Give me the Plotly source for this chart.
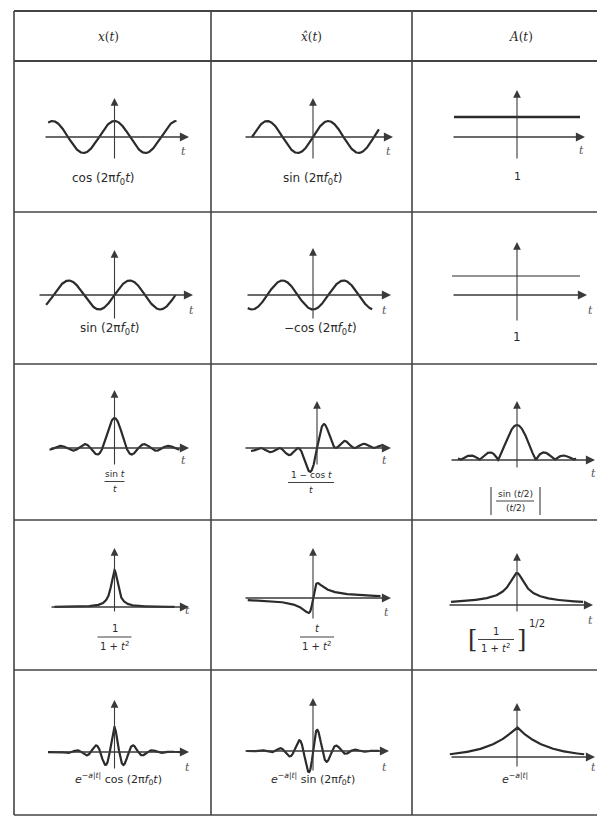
import numpy as np
import plotly.graph_objects as go

W, H = 597, 818

# ---- table layout (pixels) ----
col_edges = [14, 211, 412, 597]
row_edges = [11, 61, 212, 364, 520, 670, 815]
header_labels = ["<i>x</i>(<i>t</i>)", "<i>x\u0302</i>(<i>t</i>)", "<i>A</i>(<i>t</i>)"]
header_x = [108, 311, 521]

# ---- signal parameters ----
f0 = 1.0      # carrier frequency (cycles per unit t)
a = 1.35      # exponential decay rate

def sinc(t):
    return np.sinc(t / np.pi)

signals = {
    "cos":      lambda t: np.cos(2 * np.pi * f0 * t),
    "sin":      lambda t: np.sin(2 * np.pi * f0 * t),
    "neg_cos":  lambda t: -np.cos(2 * np.pi * f0 * t),
    "one":      lambda t: np.ones_like(t),
    "sinc":     lambda t: sinc(t),
    "one_minus_cos": lambda t: np.where(np.abs(t) < 1e-9, 0.0,
                                        (1 - np.cos(t)) / np.where(t == 0, 1, t)),
    "abs_sinc_half": lambda t: np.abs(sinc(t / 2)),
    "lorentz":  lambda t: 1 / (1 + t ** 2),
    "lorentz_odd": lambda t: t / (1 + t ** 2),
    "lorentz_sqrt": lambda t: 1 / np.sqrt(1 + t ** 2),
    "exp_cos":  lambda t: np.exp(-a * np.abs(t)) * np.cos(2 * np.pi * f0 * t),
    "exp_sin":  lambda t: np.exp(-a * np.abs(t)) * np.sin(2 * np.pi * f0 * t),
    "exp_env":  lambda t: np.exp(-np.abs(t)),
}

# per cell: row, col, signal, curve t-span, and drawing geometry
# geometry: origin (cx, base) px, scale (sx px per t, sy px per unit),
# horizontal axis ends px, vertical axis ends px, line width
cells = [
    (0, 0, "cos",  (-1.07, 1.0),  dict(cx=114.5, base=137, sx=62, sy=16, L=44, R=189, vt=98, vb=160, lw=2.2)),
    (0, 1, "sin",  (-1.0, 1.08),  dict(cx=313, base=137, sx=61, sy=16, L=244, R=393, vt=98, vb=160, lw=2.2)),
    (0, 2, "one",  (-1.26, 1.26), dict(cx=517, base=137, sx=50, sy=20, L=452, R=585, vt=90, vb=160, lw=2.4)),
    (1, 0, "sin",  (-1.12, 1.0),  dict(cx=114.5, base=295, sx=61, sy=14.5, L=38, R=193, vt=250, vb=320, lw=2.2)),
    (1, 1, "neg_cos", (-1.07, 0.97), dict(cx=313, base=295, sx=61, sy=14.5, L=246, R=391, vt=248, vb=320, lw=2.2)),
    (1, 2, "one",  (-1.3, 1.26),  dict(cx=517, base=295, sx=50, sy=19, L=452, R=587, vt=242, vb=322, lw=1.2)),
    (2, 0, "sinc", (-17, 17),     dict(cx=114.5, base=448, sx=3.82, sy=30, L=50, R=189, vt=390, vb=466, lw=2.2)),
    (2, 1, "one_minus_cos", (-22, 22), dict(cx=317, base=448, sx=3, sy=33, L=244, R=391, vt=401, vb=466, lw=2.2)),
    (2, 2, "abs_sinc_half", (-19.7, 19.7), dict(cx=517, base=460, sx=3, sy=35, L=450, R=595, vt=401, vb=469, lw=2.2)),
    (3, 0, "lorentz", (-15, 15),  dict(cx=114.5, base=607, sx=4, sy=37, L=50, R=189, vt=548, vb=613, lw=2.2)),
    (3, 1, "lorentz_odd", (-14.5, 15), dict(cx=313, base=598, sx=4.5, sy=30, L=244, R=391, vt=548, vb=620, lw=2.2)),
    (3, 2, "lorentz_sqrt", (-10, 10), dict(cx=517, base=605, sx=6.6, sy=32, L=448, R=593, vt=553, vb=613, lw=2.2)),
    (4, 0, "exp_cos", (-3.5, 3.5), dict(cx=114.5, base=752, sx=19, sy=25, L=50, R=189, vt=700, vb=770, lw=2.2)),
    (4, 1, "exp_sin", (-3.5, 3.5), dict(cx=313, base=751, sx=19, sy=29, L=244, R=389, vt=698, vb=772, lw=2.2)),
    (4, 2, "exp_env", (-2.4, 2.4), dict(cx=517, base=757, sx=28, sy=30, L=450, R=595, vt=703, vb=768, lw=2.2)),
]

# "t" axis-name positions (px)
t_label_pos = [(183, 151), (388, 151), (581, 150),
               (191, 310), (384, 310), (590, 310),
               (183, 461), (384, 461), (593, 474),
               (187, 610), (386, 612), (590, 620),
               (187, 767), (384, 767), (593, 767)]

INK = "#2b2b2b"
AXIS_INK = "#3a3a3a"
LABEL_FONT = "DejaVu Sans"
MATH_FONT = "DejaVu Serif"

def px(x):
    return x / W

def py(y):
    return 1 - y / H

fig = go.Figure()
annotations = []
shapes = []
layout_axes = {}

for n, (r, c, key, (t0, t1), g) in enumerate(cells, start=1):
    xa = "x" if n == 1 else f"x{n}"
    ya = "y" if n == 1 else f"y{n}"
    X0, X1 = col_edges[c], col_edges[c + 1]
    Y0, Y1 = row_edges[r + 1], row_edges[r + 2]
    xr = [(X0 - g["cx"]) / g["sx"], (X1 - g["cx"]) / g["sx"]]
    yr = [(g["base"] - Y1) / g["sy"], (g["base"] - Y0) / g["sy"]]
    layout_axes["xaxis" if n == 1 else f"xaxis{n}"] = dict(
        domain=[px(X0), px(X1)], range=xr, visible=False, fixedrange=True, anchor=ya)
    layout_axes["yaxis" if n == 1 else f"yaxis{n}"] = dict(
        domain=[py(Y1), py(Y0)], range=yr, visible=False, fixedrange=True, anchor=xa)

    t = np.linspace(t0, t1, 1200)
    fig.add_trace(go.Scatter(x=t, y=signals[key](t), mode="lines", xaxis=xa, yaxis=ya,
                             line=dict(color=INK, width=g["lw"]), hoverinfo="skip",
                             showlegend=False))

    # horizontal time axis with arrow
    tl = (g["L"] - g["cx"]) / g["sx"]
    tr = (g["R"] - g["cx"]) / g["sx"]
    annotations.append(dict(x=tr, y=0, ax=tl, ay=0, xref=xa, yref=ya, axref=xa, ayref=ya,
                            text="", showarrow=True, arrowhead=2, arrowsize=1.4,
                            arrowwidth=1.3, arrowcolor=AXIS_INK, standoff=0))
    # vertical axis with arrow
    vt = (g["base"] - g["vt"]) / g["sy"]
    vb = (g["base"] - g["vb"]) / g["sy"]
    annotations.append(dict(x=0, y=vt, ax=0, ay=vb, xref=xa, yref=ya, axref=xa, ayref=ya,
                            text="", showarrow=True, arrowhead=2, arrowsize=1.4,
                            arrowwidth=1.1, arrowcolor=AXIS_INK, standoff=0))

def text(x, y, s, size=12, font=LABEL_FONT, color=INK):
    annotations.append(dict(x=px(x), y=py(y), xref="paper", yref="paper", text=s,
                            showarrow=False, xanchor="center", yanchor="middle",
                            font=dict(family=font, size=size, color=color)))

def hline(x0, x1, y, w=1.0, color=INK):
    shapes.append(dict(type="line", xref="paper", yref="paper", x0=px(x0), x1=px(x1),
                       y0=py(y), y1=py(y), line=dict(color=color, width=w)))

def vline(x, y0, y1, w=1.0, color=INK):
    shapes.append(dict(type="line", xref="paper", yref="paper", x0=px(x), x1=px(x),
                       y0=py(y0), y1=py(y1), line=dict(color=color, width=w)))

def frac(x, y_num, y_den, num, den, bar_w, size=10):
    text(x, y_num, num, size=size)
    hline(x - bar_w / 2, x + bar_w / 2, (y_num + y_den) / 2, w=0.9)
    text(x, y_den, den, size=size)

# table frame
GRID = "#444444"
hline(col_edges[0], W, row_edges[0], w=2.2, color=GRID)
hline(col_edges[0], W, row_edges[1], w=2.0, color=GRID)
for yv in row_edges[2:-1]:
    hline(col_edges[0], W, yv, w=1.4, color=GRID)
hline(col_edges[0], W, row_edges[-1], w=1.4, color=GRID)
for xv in col_edges[:-1]:
    vline(xv, row_edges[0], row_edges[-1], w=1.6, color=GRID)

# column headers
for s, hx in zip(header_labels, header_x):
    text(hx, 37, s, size=12, font=MATH_FONT)

# t labels
for (lx, ly) in t_label_pos:
    text(lx, ly, "<i>t</i>", size=11, font=MATH_FONT, color="#555555")

fz = "2π<i>f</i><sub>0</sub><i>t</i>"
# row 1
text(103, 179, f"cos ({fz})", size=12)
text(313, 179, f"sin ({fz})", size=12)
text(517, 176, "1", size=11)
# row 2
text(110, 329, f"sin ({fz})", size=12)
text(320, 329, f"−cos ({fz})", size=12)
text(517, 337, "1", size=12)
# row 3
frac(114.5, 474, 489, "sin <i>t</i>", "<i>t</i>", 20, size=9)
frac(311, 475, 490, "1 − cos <i>t</i>", "<i>t</i>", 46, size=9)
frac(515, 494, 508, "sin (<i>t</i>/2)", "(<i>t</i>/2)", 38, size=9)
vline(491, 487, 515, w=1.0)
vline(540, 487, 515, w=1.0)
# row 4
frac(114.5, 628, 646, "1", "1 + <i>t</i><sup>2</sup>", 34, size=10)
frac(317, 628, 646, "<i>t</i>", "1 + <i>t</i><sup>2</sup>", 34, size=10)
frac(496, 631, 648, "1", "1 + <i>t</i><sup>2</sup>", 36, size=10)
text(472, 639, "[", size=24, font=MATH_FONT)
text(521, 639, "]", size=24, font=MATH_FONT)
text(537, 623, "1/2", size=10)
# row 5
ea = "<i>e</i><sup>−<i>a</i>|<i>t</i>|</sup>"
text(118, 779, f"{ea} cos ({fz})", size=11)
text(313, 779, f"{ea} sin ({fz})", size=11)
text(515, 778, ea, size=11)

fig.update_layout(
    width=W, height=H, margin=dict(l=0, r=0, t=0, b=0),
    paper_bgcolor="white", plot_bgcolor="rgba(0,0,0,0)",
    showlegend=False, annotations=annotations, shapes=shapes, **layout_axes,
)

fig.write_html("out.html", config={"displayModeBar": False})
